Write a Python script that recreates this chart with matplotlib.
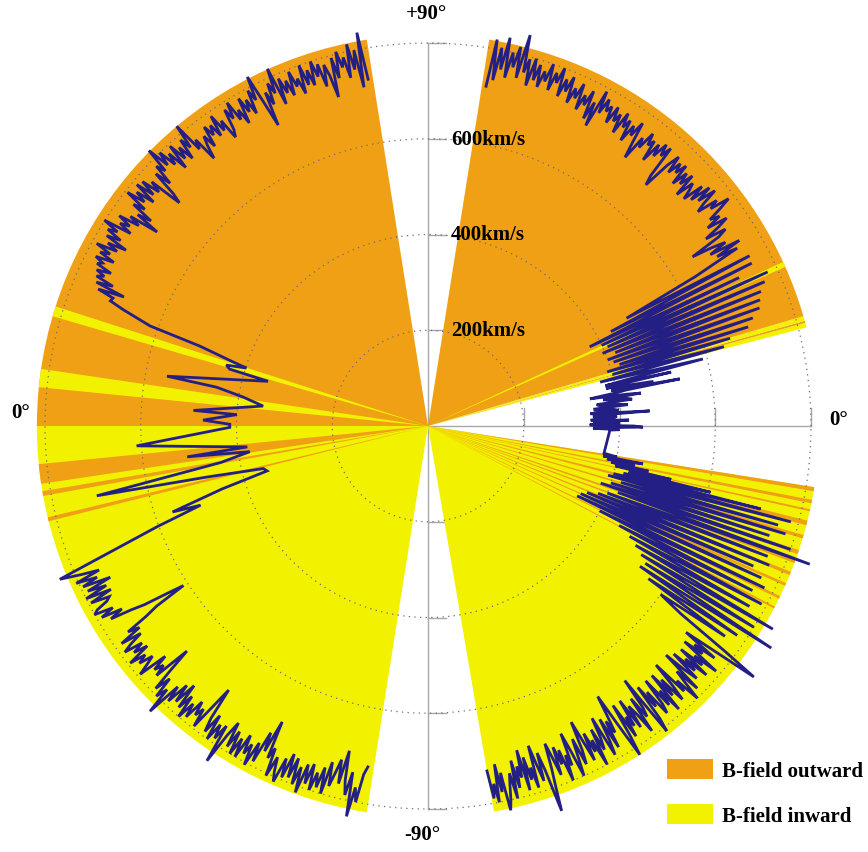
import numpy as np
import matplotlib
matplotlib.use("Agg")
import matplotlib.pyplot as plt
from matplotlib.patches import Patch

# ---------------------------------------------------------------- data
# Solar wind speed (km/s) against heliographic latitude (deg).
# Left half: angle = 180 - latitude, right half: angle = latitude.

# left half, northern fast wind (latitude 80.2 -> 22.1)
left_north_speed = [
    735, 835, 720, 800, 760, 815, 745, 790, 770, 805,
    750, 795, 712, 760, 785, 740, 790, 765, 800, 750,
    785, 755, 800, 740, 775, 760, 795, 745, 780, 755,
    790, 735, 818, 765, 790, 745, 775, 702, 760, 821,
    770, 795, 745, 780, 755, 790, 735, 770, 750, 795,
    760, 785, 740, 725, 770, 750, 790, 745, 775, 755,
    780, 735, 765, 745, 716, 770, 750, 817, 765, 790,
    745, 780, 755, 795, 740, 785, 760, 800, 770, 819,
    765, 785, 740, 775, 720, 698, 770, 745, 785, 750,
    790, 740, 780, 755, 795, 745, 770, 720, 750, 696,
    760, 735, 780, 750, 770, 740, 801, 765, 785, 750,
    780, 730, 770, 745, 790, 755, 775, 740, 779, 760,
    770, 735, 765, 745, 760, 720, 755, 690, 746, 710,
]
left_north_lat = (80.2, 22.1)

# left half, low latitudes (plotted angle in degrees)
left_equator_angle = [
    158.5, 159.1, 160.2, 160.7, 161.8, 162.3, 163.2, 164.0, 164.4, 169.2,
    169.6, 171.1, 173.1, 176.2, 176.6, 178.5, 179.5, 180.4, 183.9, 186.6,
    187.3, 188.2, 190.0, 191.9, 193.0, 194.5, 195.6, 197.0, 198.6, 199.2,
    200.4, 202.6,
]
left_equator_speed = [
    713, 682, 617, 505, 429, 398, 440, 431, 347, 555,
    449, 391, 347, 491, 400, 470, 414, 414, 610, 380,
    507, 376, 440, 707, 474, 355, 349, 450, 563, 503,
    604, 833,
]

# left half, southern fast wind (latitude -23.2 -> -80.0)
left_south_speed = [
    788, 750, 805, 760, 795, 735, 790, 750, 800, 745,
    795, 755, 764, 790, 800, 760, 790, 745, 775, 730,
    700, 650, 610, 680, 710, 760, 735, 785, 740, 770,
    790, 750, 775, 745, 795, 760, 780, 750, 770, 794,
    730, 765, 745, 770, 689, 740, 790, 755, 800, 775,
    832, 755, 790, 740, 780, 730, 785, 750, 800, 760,
    790, 745, 775, 755, 795, 740, 691, 760, 790, 745,
    800, 760, 790, 755, 838, 770, 736, 790, 750, 800,
    760, 800, 745, 785, 760, 805, 750, 790, 720, 760,
    689, 770, 745, 805, 760, 790, 810, 755, 795, 740,
    790, 745, 800, 760, 814, 750, 790, 745, 800, 760,
    790, 745, 800, 730, 780, 750, 720, 770, 698, 760,
    790, 740, 833, 770, 800, 740, 723,
]
left_south_lat = (-23.2, -80.0)

# right half, northern fast wind (latitude 80.3 -> 29.9)
right_north_speed = [
    720, 820, 735, 805, 760, 829, 745, 800, 770, 815,
    750, 844, 765, 795, 740, 800, 755, 790, 744, 780,
    760, 800, 745, 785, 765, 800, 740, 780, 755, 790,
    735, 770, 750, 785, 730, 765, 745, 780, 720, 760,
    709, 792, 745, 780, 755, 770, 735, 775, 745, 765,
    725, 775, 745, 765, 720, 760, 740, 775, 730, 696,
    750, 730, 770, 745, 760, 715, 760, 735, 770, 745,
    770, 700, 679, 740, 768, 730, 760, 740, 765, 720,
    755, 730, 760, 710, 750, 735, 715, 760, 725, 770,
    735, 775, 740, 720, 765, 745, 787, 760, 730, 750,
    716, 760, 735, 700, 745, 725, 656, 700, 730, 690,
    757, 700, 745,
]
right_north_lat = (80.3, 29.9)

# right half, low latitudes with stream interaction spikes
right_equator_lat = [
    29.2, 28.5, 27.9, 27.3, 26.7, 26.1, 25.5, 24.9, 24.4, 23.8, 23.2, 22.6,
    22.0, 21.4, 20.8, 20.2, 19.6, 19.0, 18.4, 17.8, 17.2, 16.8, 16.2, 15.6,
    15.0, 14.3, 13.7,
    13.1, 12.8, 12.5, 12.2, 11.9, 11.5, 11.2, 10.9, 10.6, 10.3, 10.0, 9.7,
    9.5, 9.1, 8.8, 8.5, 8.2, 7.9, 7.5, 7.2, 6.8, 6.5, 6.1, 5.8, 5.4, 5.1,
    4.7, 4.3, 3.9, 3.6, 3.3, 3.0, 2.6, 2.3, 2.0, 1.7, 1.4, 1.1, 0.8, 0.5,
    0.3, 0.0, -0.3, -0.6, -0.8, -1.1, -1.3,
    -8.8, -9.3, -9.7, -10.0, -10.4, -10.8, -11.2, -11.6,
    -12.0, -12.4, -12.8, -13.2, -13.6, -14.0, -14.4, -14.8, -15.3, -15.8,
    -16.3, -16.8, -17.3, -17.8, -18.3, -18.8, -19.3, -19.9, -20.5, -21.0,
    -21.6, -22.2, -22.7, -23.3, -23.9, -24.5, -25.1, -25.7, -26.3, -26.9,
    -27.5, -28.1, -28.7, -29.3, -29.9, -30.5, -31.1, -31.7, -32.3, -32.9,
    -33.5, -34.1, -34.7, -35.3, -35.9, -36.6, -37.2, -37.6,
]
right_equator_speed = [
    640, 472, 760, 430, 757, 376, 720, 400, 779, 410, 765, 395,
    750, 420, 742, 400, 735, 410, 715, 420, 700, 391, 657, 400,
    640, 371, 591,
    420, 380, 520, 400, 380, 430, 480, 390, 535, 420, 400, 360,
    343, 420, 450, 370, 380, 420, 430, 355, 360, 400, 420, 350, 350, 390,
    400, 340, 464, 360, 345, 395, 390, 350, 340, 420, 345, 380, 400, 340,
    338, 430, 449, 350, 345, 400, 380,
    372, 400, 371, 456, 380, 440, 390, 470,
    400, 520, 430, 606, 420, 716, 400, 784, 390, 760,
    420, 780, 400, 749, 380, 800, 420, 848, 400, 760,
    382, 770, 360, 740, 349, 765, 344, 780, 400, 760,
    450, 790, 480, 770, 500, 836, 520, 800, 537, 854,
    531, 780, 560, 760, 600, 658, 780, 859,
]

# right half, southern fast wind (latitude -38.3 -> -80.3)
right_south_speed = [
    740, 690, 770, 720, 745, 700, 790, 735, 760, 705,
    780, 725, 756, 700, 770, 740, 690, 785, 730, 760,
    800, 744, 770, 690, 745, 780, 720, 760, 700, 790,
    735, 770, 700, 760, 780, 720, 755, 700, 780, 809,
    672, 740, 760, 710, 790, 745, 720, 770, 700, 760,
    735, 780, 700, 770, 817, 740, 667, 710, 750, 720,
    780, 710, 760, 790, 700, 745, 770, 720, 800, 740,
    765, 720, 780, 730, 687, 750, 780, 720, 760, 800,
    740, 700, 770, 745, 800, 730, 760, 720, 780, 740,
    707, 760, 800, 851, 760, 720, 780, 740, 700, 790,
    745, 770, 720, 790, 702, 760, 735, 780, 720, 800,
    745, 770, 800, 821, 740, 780, 720, 800, 760, 790,
    731,
]
right_south_lat = (-38.3, -80.3)

# Magnetic polarity sectors (plotted angle range, deg); later rows overlay earlier ones
sector_start = [99.0, 162.2, 171.6,
                180.0, 185.6, 189.6, 193.5,
                14.6, 15.3, 15.6, 16.3, 24.0,
                -80.3, -9.6, -11.4, -12.6, -14.7, -16.7, -19.1, -20.5,
                -22.4, -24.1, -26.2, -27.8]
sector_end = [180.0, 163.7, 174.3,
              261.0, 188.5, 190.3, 194.1,
              15.3, 15.6, 16.3, 81.0, 24.8,
              -9.0, -9.0, -10.9, -12.3, -14.0, -16.2, -18.5, -20.0,
              -21.9, -23.7, -25.8, -27.5]
sector_polarity = ["out", "in", "in",
                   "in", "out", "out", "out",
                   "in", "out", "in", "out", "in",
                   "in", "out", "out", "out", "out", "out", "out", "out",
                   "out", "out", "out", "out"]

speed_rings = [200, 400, 600, 800]
ring_labels = ["200km/s", "400km/s", "600km/s", ""]
legend_labels = ["B-field outward", "B-field inward"]

# ---------------------------------------------------------------- style
ORANGE = "#EFA014"
YELLOW = "#F2F200"
NAVY = "#231F85"
GRID = "#6e6e6e"
AXLINE = "#a8a8a8"
FONT = dict(family="Liberation Serif", weight="bold", size=15)
polarity_color = {"out": ORANGE, "in": YELLOW}

W, H = 868, 853
CX, CY = 428, 426          # centre of the plot, pixels from lower left
PX_PER_KMS = 383 / 800
RMAX = 880
WEDGE_R = 817

fig = plt.figure(figsize=(W / 100, H / 100), dpi=100)
rpx = RMAX * PX_PER_KMS
ax = fig.add_axes([(CX - rpx) / W, (CY - rpx) / H, 2 * rpx / W, 2 * rpx / H],
                  projection="polar")
ax.set_ylim(0, RMAX)
ax.set_axis_off()


def polar_xy(x, y):
    """Cartesian offset in km/s -> (theta, r) for the polar axes."""
    return np.arctan2(y, x), np.hypot(x, y)


# polarity sectors
for a0, a1, pol in zip(sector_start, sector_end, sector_polarity):
    ax.bar(np.deg2rad((a0 + a1) / 2), WEDGE_R, width=np.deg2rad(a1 - a0),
           bottom=0, color=polarity_color[pol], linewidth=0, zorder=1)

# axis cross
ax.plot([np.pi / 2, 3 * np.pi / 2], [800, 800], color=AXLINE, lw=1.0, zorder=0.5)
ax.plot([0, np.pi], [800, 800], color=AXLINE, lw=1.0, zorder=0.5)
tick = 38
for r in speed_rings:
    t0, r0 = polar_xy(r, 0)
    t1, r1 = polar_xy(r, tick)
    ax.plot([t0, t1], [r0, r1], color=AXLINE, lw=1.0, zorder=0.5)
    for sgn in (1, -1):
        t0, r0 = polar_xy(0, sgn * r)
        t1, r1 = polar_xy(tick, sgn * r)
        ax.plot([t0, t1], [r0, r1], color=AXLINE, lw=1.0, zorder=0.5)

# dotted speed rings
theta_ring = np.linspace(0, 2 * np.pi, 721)
for r in speed_rings:
    ax.plot(theta_ring, np.full_like(theta_ring, r), color=GRID, lw=0.9,
            ls=(0, (1, 3.5)), zorder=2)

# speed profiles
left_lat = np.concatenate([
    np.linspace(*left_north_lat, len(left_north_speed)),
    180.0 - np.array(left_equator_angle),
    np.linspace(*left_south_lat, len(left_south_speed)),
])
left_speed = np.concatenate([left_north_speed, left_equator_speed, left_south_speed])
right_lat = np.concatenate([
    np.linspace(*right_north_lat, len(right_north_speed)),
    right_equator_lat,
    np.linspace(*right_south_lat, len(right_south_speed)),
])
right_speed = np.concatenate([right_north_speed, right_equator_speed, right_south_speed])

for ang, spd in ((180.0 - left_lat, left_speed), (right_lat, right_speed)):
    ax.plot(np.deg2rad(ang), spd, color=NAVY, lw=2.0, zorder=3,
            clip_on=False, solid_joinstyle="miter")

# ring labels
for r, lab in zip(speed_rings, ring_labels):
    if lab:
        ax.text(*polar_xy(48, r), lab, ha="left", va="center", zorder=4, **FONT)

# latitude labels
ax.text(*polar_xy(-4, 862), "+90°", ha="center", va="center", **FONT)
ax.text(*polar_xy(-12, -852), "-90°", ha="center", va="center", **FONT)
ax.text(*polar_xy(-850, 30), "0°", ha="center", va="center", **FONT)
ax.text(*polar_xy(858, 15), "0°", ha="center", va="center", **FONT)

# legend
handles = [Patch(facecolor=ORANGE, edgecolor="none"),
           Patch(facecolor=YELLOW, edgecolor="none")]
fig.legend(handles, legend_labels, loc="upper left",
           bbox_to_anchor=(667 / W, (H - 760) / H), frameon=False,
           prop=dict(family="Liberation Serif", weight="bold", size=15),
           handlelength=2.2, handleheight=1.1, handletextpad=0.45,
           labelspacing=1.1, borderpad=0, borderaxespad=0)

fig.savefig("out.png", dpi=100)
